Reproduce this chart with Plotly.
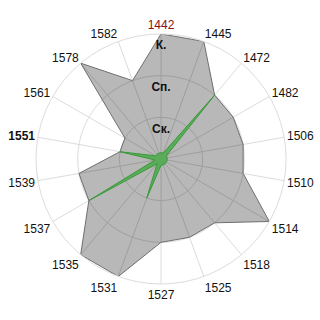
import plotly.graph_objects as go

categories = ["1442", "1445", "1472", "1482", "1506", "1510", "1514", "1518", "1525",
              "1527", "1531", "1535", "1537", "1539", "1551", "1561", "1578", "1582"]
tick_labels = ["<span style='color:#8b1010'>1442</span>", "1445", "1472", "1482", "1506", "1510",
               "1514", "1518", "1525", "1527", "1531", "1535", "1537", "1539", "<b>1551</b>",
               "1561", "1578", "1582"]
gray_values = [3, 3, 2, 2, 2, 2, 3, 2, 2, 2, 3, 3, 2, 2, 1, 1, 3, 2]
green_values = [0.15, 0.15, 2, 0.15, 0.15, 0.15, 0.15, 0.15, 0.15, 0.15, 1, 0.15, 2, 0.15, 1, 0.15, 0.15, 0.15]
level_values = [1, 2, 3]
level_labels = ["Ск.", "Сп.", "К."]

label_offset = 0.15  # pushes the level labels a bit below their ring

fig = go.Figure()
fig.add_trace(go.Scatterpolar(
    r=gray_values + gray_values[:1], theta=categories + categories[:1],
    mode="lines", fill="toself", fillcolor="rgba(0,0,0,0.28)",
    line=dict(color="#6e6e6e", width=1), hoverinfo="skip", showlegend=False))
fig.add_trace(go.Scatterpolar(
    r=green_values + green_values[:1], theta=categories + categories[:1],
    mode="lines", fill="toself", fillcolor="#5bab5b",
    line=dict(color="#3a9a3a", width=1), hoverinfo="skip", showlegend=False))
fig.add_trace(go.Scatterpolar(
    r=[v - label_offset for v in level_values], theta=[categories[0]] * len(level_values),
    mode="text", text=["<b>" + t + "</b>" for t in level_labels], textposition="bottom center",
    textfont=dict(family="Liberation Sans, Arial", size=12, color="#111111"),
    hoverinfo="skip", showlegend=False))

fig.update_layout(
    width=320, height=320,
    margin=dict(l=0, r=0, t=0, b=0),
    paper_bgcolor="white", plot_bgcolor="white",
    font=dict(family="Liberation Sans, Arial", size=12, color="#111111"),
    polar=dict(
        domain=dict(x=[0.1125, 0.894], y=[0.1125, 0.894]),
        bgcolor="white",
        radialaxis=dict(range=[0, 3], tickvals=level_values, showticklabels=False,
                        ticks="", showline=False, gridcolor="#dcdcdc", gridwidth=1),
        angularaxis=dict(rotation=90, direction="clockwise", categoryorder="array",
                         categoryarray=categories, tickmode="array", tickvals=categories,
                         ticktext=tick_labels, ticks="", gridcolor="#dcdcdc",
                         linecolor="#dcdcdc", showline=True,
                         tickfont=dict(size=12, color="#111111")),
    ),
)

fig.write_html("out.html")
